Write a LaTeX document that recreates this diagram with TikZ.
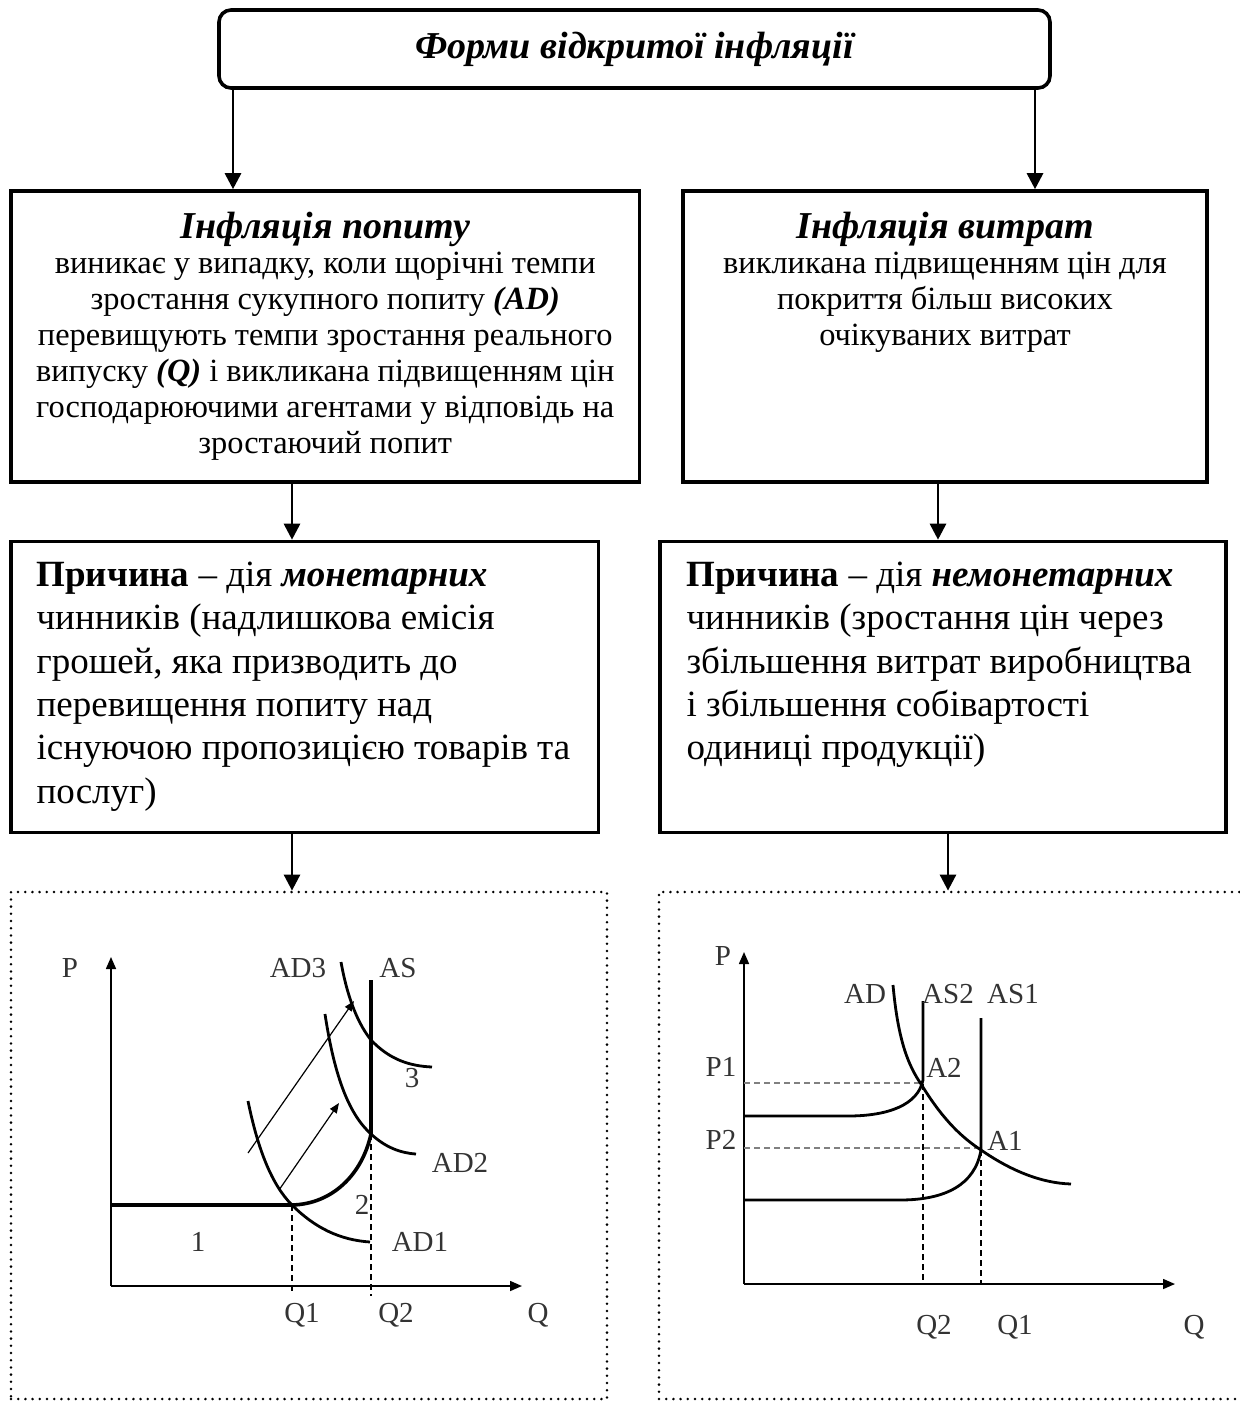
\documentclass[tikz,border=0pt]{standalone}
\usepackage{fontspec}
\setmainfont{Liberation Serif}
\usetikzlibrary{arrows.meta,positioning}

\definecolor{lblgray}{gray}{0.2}

\tikzset{
  box/.style={draw, line width=1.8pt, inner sep=0pt},
  dotbox/.style={draw, line width=1.4pt, dash pattern=on 0pt off 3.6pt, line cap=round},
  arr/.style={line width=1.4pt, -{Triangle[width=8pt,length=8pt]}},
  titletext/.style={font=\fontsize{19}{22}\selectfont\bfseries\itshape, anchor=base},
  bodytext/.style={align=center, inner sep=0pt, anchor=north, font=\fontsize{16.2}{18}\selectfont},
  causetext/.style={align=left, inner sep=0pt, anchor=north west, font=\fontsize{18.5}{21.7}\selectfont},
  axis/.style={line width=0.8pt, -{Triangle[width=5pt,length=6pt]}},
  curve/.style={line width=1.4pt},
  shiftarr/.style={line width=0.6pt, -{Triangle[width=4pt,length=5pt]}},
  guide/.style={line width=0.6pt, dash pattern=on 3pt off 2pt},
  lbl/.style={text=lblgray, font=\fontsize{14.5}{16}\selectfont}
}

\begin{document}
\begin{tikzpicture}[x=0.5pt, y=-0.5pt]
  \useasboundingbox (0,0) rectangle (1240,1403);

  % Blocks
  \node[box, rounded corners=6pt, minimum width=415.5pt, minimum height=39pt,
        font=\fontsize{19}{22}\selectfont\bfseries\itshape] (forms) at (634.5,49) {Форми відкритої інфляції};
  \node[box, minimum width=314.25pt, minimum height=145.5pt] (demand) at (325.25,336.5) {};
  \node[box, minimum width=262pt, minimum height=145.5pt] (costs) at (945,336.5) {};
  \node[box, minimum width=293.75pt, minimum height=145.5pt] (causeD) at (304.75,687) {};
  \node[box, minimum width=283pt, minimum height=145.5pt] (causeC) at (943,687) {};

  % Dotted frames round the graphs
  \node[dotbox, minimum width=298pt, minimum height=253.5pt] (graphD) at (309,1145.5) {};
  \node[dotbox, minimum width=295.5pt, minimum height=253.5pt] (graphC) at (954.5,1145.5) {};

  % Texts of the blocks
  \node[titletext] (demandT) at ([yshift=-24.75pt]demand.north) {Інфляція попиту};
  \node[bodytext] (demandB) at ([yshift=-29.15pt]demand.north) {\strut виникає у випадку, коли щорічні темпи\\
    зростання сукупного попиту \textbf{\textit{(AD)}}\\
    перевищують темпи зростання реального\\
    випуску \textbf{\textit{(Q)}} і викликана підвищенням цін\\
    господарюючими агентами у відповідь на\\
    зростаючий попит};

  \node[titletext] (costsT) at ([yshift=-24.75pt]costs.north) {Інфляція витрат};
  \node[bodytext] (costsB) at ([yshift=-29.15pt]costs.north) {\strut викликана підвищенням цін для\\
    покриття більш високих\\
    очікуваних витрат};

  \node[causetext] (causeDT) at ([xshift=13.5pt, yshift=-7.9pt]causeD.north west) {\strut\textbf{Причина} – дія \textbf{\textit{монетарних}}\\
    чинників (надлишкова емісія\\
    грошей, яка призводить до\\
    перевищення попиту над\\
    існуючою пропозицією товарів та\\
    послуг)};
  \node[causetext] (causeCT) at ([xshift=14pt, yshift=-7.9pt]causeC.north west) {\strut\textbf{Причина} – дія \textbf{\textit{немонетарних}}\\
    чинників (зростання цін через\\
    збільшення витрат виробництва\\
    і збільшення собівартості\\
    одиниці продукції)};

  % Arrows
  \coordinate (xa) at (233,0);
  \coordinate (xb) at (1035,0);
  \coordinate (xc) at (292,0);
  \coordinate (xd) at (938,0);
  \coordinate (xe) at (948,0);
  \draw[arr] (forms.south -| xa) -- (demand.north -| xa);
  \draw[arr] (forms.south -| xb) -- (costs.north -| xb);
  \draw[arr] (demand.south -| xc) -- (causeD.north -| xc);
  \draw[arr] (costs.south -| xd) -- (causeC.north -| xd);
  \draw[arr] (causeD.south -| xc) -- (graphD.north -| xc);
  \draw[arr] (causeC.south -| xe) -- (graphC.north -| xe);

  % Graph of demand inflation
  \draw[axis] (111,1286) -- (111,957);
  \draw[axis] (111,1286) -- (522,1286);
  \draw[guide] (292,1205) -- (292,1292);
  \draw[guide] (371,1134) -- (371,1296);
  \draw[line width=1.8pt] (111,1205) -- (292,1205) .. controls (332,1204) and (362,1175) .. (371,1134) -- (371,980);
  \draw[curve] (248,1101) .. controls (258,1150) and (272,1185) .. (292,1205) .. controls (315,1228) and (340,1240) .. (370,1242);
  \draw[curve] (325,1014) .. controls (335,1080) and (350,1115) .. (371,1134) .. controls (385,1147) and (400,1153) .. (416,1154);
  \draw[curve] (341,962) .. controls (346,990) and (355,1020) .. (371,1040) .. controls (390,1060) and (410,1066) .. (432,1067);
  \draw[shiftarr] (248,1153) -- (354,1001);
  \draw[shiftarr] (279,1190) -- (339,1103);
  \node[lbl] at (70,968) {P};
  \node[lbl] at (298,968) {AD3};
  \node[lbl] at (398,968) {AS};
  \node[lbl] at (412,1078) {3};
  \node[lbl] at (460,1163) {AD2};
  \node[lbl] at (362,1205) {2};
  \node[lbl] at (420,1242) {AD1};
  \node[lbl] at (198,1242) {1};
  \node[lbl] at (302,1315) {Q1};
  \node[lbl] at (396,1315) {Q2};
  \node[lbl] at (538,1315) {Q};

  % Graph of cost inflation
  \draw[axis] (744,1284) -- (744,952);
  \draw[axis] (744,1284) -- (1175,1284);
  \draw[guide, gray] (744,1083) -- (921,1083);
  \draw[guide, gray] (744,1148) -- (981,1148);
  \draw[guide] (923,1084) -- (923,1284);
  \draw[guide] (981,1150) -- (981,1284);
  \draw[curve] (893,985) .. controls (898,1040) and (908,1065) .. (921,1084) .. controls (940,1115) and (958,1135) .. (981,1150) .. controls (1010,1170) and (1040,1183) .. (1071,1184);
  \draw[curve] (744,1116) -- (848,1116) .. controls (888,1116) and (918,1105) .. (923,1080) -- (923,1001);
  \draw[curve] (744,1200) -- (900,1200) .. controls (945,1200) and (975,1185) .. (981,1150) -- (981,1018);
  \node[lbl] at (723,956) {P};
  \node[lbl] at (865,994) {AD};
  \node[lbl] at (948,994) {AS2};
  \node[lbl] at (1013,994) {AS1};
  \node[lbl] at (721,1067) {P1};
  \node[lbl] at (944,1068) {A2};
  \node[lbl] at (721,1140) {P2};
  \node[lbl] at (1005,1141) {A1};
  \node[lbl] at (934,1327) {Q2};
  \node[lbl] at (1015,1327) {Q1};
  \node[lbl] at (1194,1327) {Q};
\end{tikzpicture}
\end{document}
